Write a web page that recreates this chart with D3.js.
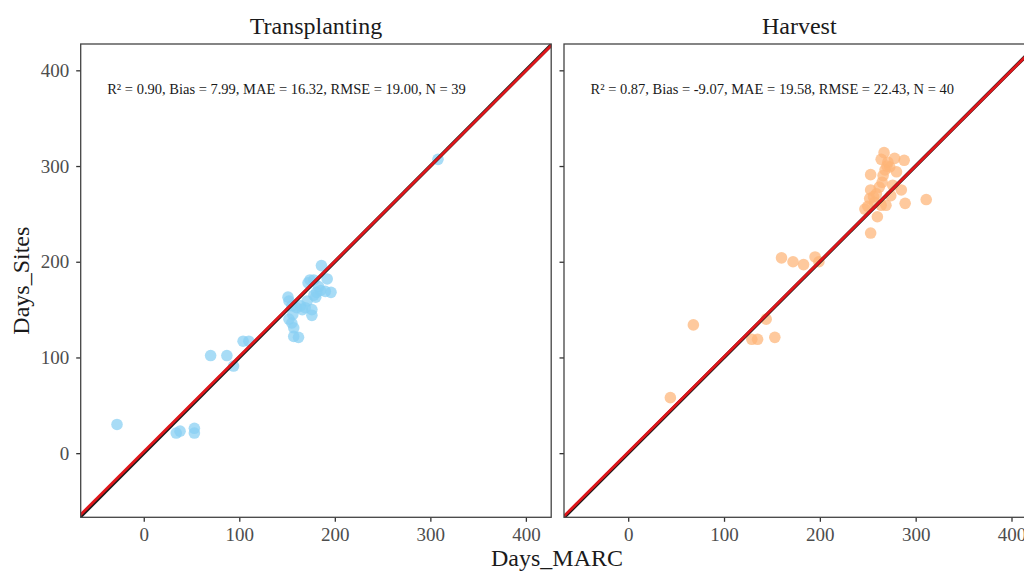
<!DOCTYPE html>
<html>
<head>
<meta charset="utf-8">
<script src="https://cdn.jsdelivr.net/npm/d3@7"></script>
<style>
  body { margin: 0; background: #fff; }
  svg { display: block; }
</style>
</head>
<body>
<svg id="chart"></svg>
<script>
// values: [Days_MARC, Days_Sites]
var transplanting = [
  [-28, 30], [34, 21], [38, 23], [53, 26], [53, 21],
  [70, 102], [87, 102], [94, 91], [104, 117], [110, 117],
  [151, 163], [152, 159], [155, 154], [160, 152], [169, 152],
  [152, 140], [156, 145], [157, 131], [157, 122], [162, 121],
  [176, 150], [176, 144], [174, 181], [178, 181], [186, 196],
  [192, 182], [196, 168], [190, 169], [181, 168], [178, 165],
  [183, 174], [171, 159], [164, 154], [308, 307], [155, 136],
  [172, 178], [185, 170], [166, 150], [180, 163]
];
var harvest = [
  [44, 58], [68, 134], [129, 119], [135, 119], [144, 140],
  [153, 121], [160, 204], [172, 200], [183, 197], [195, 205],
  [199, 200], [253, 230], [260, 247], [247, 255], [252, 266],
  [253, 275], [259, 271], [269, 259], [264, 259], [285, 275],
  [289, 261], [311, 265], [253, 291], [266, 290], [267, 314],
  [264, 307], [271, 304], [278, 308], [288, 306], [273, 299],
  [280, 294], [274, 269], [257, 262], [250, 258], [262, 278],
  [270, 300], [268, 296], [276, 280], [256, 268], [265, 283]
];
var panelNames = ["Transplanting", "Harvest"];
var panelStats = [
  "R\u00b2 = 0.90, Bias = 7.99, MAE = 16.32, RMSE = 19.00, N = 39",
  "R\u00b2 = 0.87, Bias = -9.07, MAE = 19.58, RMSE = 22.43, N = 40"
];
// red fitted line: [intercept, slope]
var fitLines = [[1.5, 0.995], [1, 0.997]];
var ticks = [0, 100, 200, 300, 400];

var W = 1024, H = 572;
var svg = d3.select("#chart").attr("width", W).attr("height", H);
var font = "'Liberation Serif', 'Times New Roman', serif";

var panels = [
  { data: transplanting, x0: 80.7, x1: 551.2, xdom: [-66, 426.5], color: "#86cff2" },
  { data: harvest, x0: 564, x1: 1034.5, xdom: [-67, 424], color: "#fdb477" }
];
var yTop = 44, yBottom = 517.3;
var y = d3.scaleLinear().domain([-67, 427.5]).range([yBottom, yTop]);

panels.forEach(function(p, i) {
  var x = d3.scaleLinear().domain(p.xdom).range([p.x0, p.x1]);
  var g = svg.append("g");

  g.append("clipPath").attr("id", "clip" + i)
    .append("rect")
    .attr("x", p.x0).attr("y", yTop)
    .attr("width", p.x1 - p.x0).attr("height", yBottom - yTop);

  var plot = g.append("g").attr("clip-path", "url(#clip" + i + ")");

  plot.selectAll("circle")
    .data(p.data)
    .join("circle")
    .attr("cx", function(d) { return x(d[0]); })
    .attr("cy", function(d) { return y(d[1]); })
    .attr("r", 5.8)
    .style("fill", p.color)
    .style("opacity", 0.72);

  var lo = -100, hi = 500;
  plot.append("line")
    .attr("x1", x(lo)).attr("y1", y(lo))
    .attr("x2", x(hi)).attr("y2", y(hi))
    .attr("stroke", "#1a1a1a").attr("stroke-width", 3.6);

  var f = fitLines[i];
  plot.append("line")
    .attr("x1", x(lo)).attr("y1", y(f[0] + f[1] * lo))
    .attr("x2", x(hi)).attr("y2", y(f[0] + f[1] * hi))
    .attr("stroke", "#e0161b").attr("stroke-width", 2.8);

  // x axis
  var xa = g.append("g")
    .attr("transform", "translate(0," + yBottom + ")")
    .call(d3.axisBottom(x).tickValues(ticks).tickSize(4.5).tickPadding(6));
  xa.select(".domain").remove();
  xa.selectAll("line").attr("stroke", "#333").attr("stroke-width", 1.3);
  xa.selectAll("text")
    .attr("font-family", font).attr("font-size", "19px")
    .attr("fill", "#4d4d4d");

  // y axis
  var ya = g.append("g")
    .attr("transform", "translate(" + p.x0 + ",0)")
    .call(d3.axisLeft(y).tickValues(ticks).tickSize(4.5).tickPadding(7));
  ya.select(".domain").remove();
  ya.selectAll("line").attr("stroke", "#333").attr("stroke-width", 1.3);
  ya.selectAll("text")
    .attr("font-family", font).attr("font-size", "19px")
    .attr("fill", "#4d4d4d");
  if (i > 0) ya.selectAll("text").remove();

  // panel border
  g.append("rect")
    .attr("x", p.x0).attr("y", yTop)
    .attr("width", p.x1 - p.x0).attr("height", yBottom - yTop)
    .attr("fill", "none").attr("stroke", "#444").attr("stroke-width", 1.3);

  g.append("text")
    .attr("x", (p.x0 + p.x1) / 2).attr("y", 34)
    .attr("text-anchor", "middle")
    .attr("font-family", font).attr("font-size", "24px")
    .attr("fill", "#1a1a1a")
    .text(panelNames[i]);

  g.append("text")
    .attr("x", p.x0 + 26.5).attr("y", 94)
    .attr("font-family", font).attr("font-size", "14.5px")
    .attr("fill", "#1a1a1a")
    .text(panelStats[i]);
});

svg.append("text")
  .attr("x", 557).attr("y", 566)
  .attr("text-anchor", "middle")
  .attr("font-family", font).attr("font-size", "24px")
  .attr("fill", "#1a1a1a")
  .text("Days_MARC");

svg.append("text")
  .attr("transform", "translate(29," + ((yTop + yBottom) / 2) + ") rotate(-90)")
  .attr("text-anchor", "middle")
  .attr("font-family", font).attr("font-size", "24px")
  .attr("fill", "#1a1a1a")
  .text("Days_Sites");
</script>
</body>
</html>
